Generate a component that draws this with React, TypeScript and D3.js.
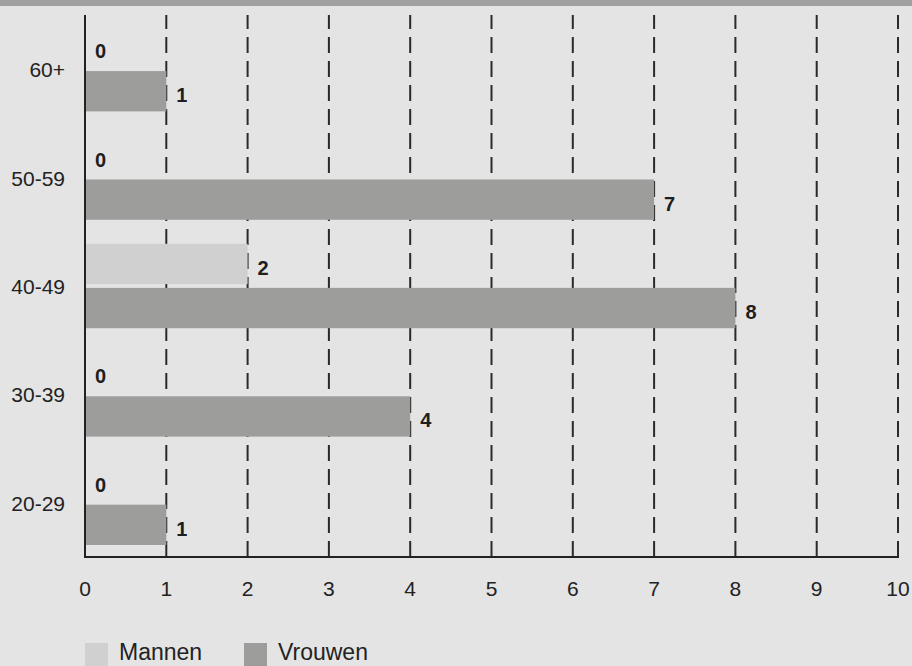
import React from "react";
import * as d3 from "d3";

const categories = ["60+", "50-59", "40-49", "30-39", "20-29"];
const seriesNames = ["Mannen", "Vrouwen"];
const mannen = [0, 0, 2, 0, 0];
const vrouwen = [1, 7, 8, 4, 1];
const xTicks = [0, 1, 2, 3, 4, 5, 6, 7, 8, 9, 10];

const W = 912;
const H = 666;
const colors: Record<string, string> = { Mannen: "#d0d0d0", Vrouwen: "#9d9d9c" };
const FONT = "'Liberation Sans', Arial, Helvetica, sans-serif";

export default function App() {
  const x = d3.scaleLinear().domain([0, 10]).range([85, 898]);
  const y = d3.scaleBand<string>().domain(categories).range([15, 557]).paddingInner(0).paddingOuter(0);
  const bw = y.bandwidth();
  const sub = d3.scaleBand<string>().domain(seriesNames).range([12, bw - 12]).paddingInner(0.085);
  const values: Record<string, number[]> = { Mannen: mannen, Vrouwen: vrouwen };
  const axisY = 557;
  const top = 15;

  return (
    <svg width={W} height={H} style={{ position: "absolute", left: 0, top: 0, display: "block" }} fontFamily={FONT}>
      <rect x={0} y={0} width={W} height={H} fill="#e4e4e4" />
      <rect x={0} y={0} width={W} height={6} fill="#a0a0a0" />
      {/* grid lines */}
      {xTicks.filter((t) => t > 0).map((t) => (
        <line key={"g" + t} x1={x(t)} x2={x(t)} y1={axisY} y2={top} stroke="#2a2a2a" strokeWidth={2} strokeDasharray="16,8" />
      ))}
      {/* bars */}
      {categories.map((c, i) => (
        <g key={c} transform={`translate(0,${y(c)})`}>
          {seriesNames.map((s) => {
            const v = values[s][i];
            const by = sub(s)!;
            const bh = sub.bandwidth();
            return (
              <g key={s}>
                {v > 0 && (
                  <rect x={x(0)} y={by} width={x(v) - x(0)} height={bh} fill={colors[s]} />
                )}
                <text x={x(v) + 10} y={by + bh / 2 + 11} fontSize={20} fontWeight="bold" fill="#1e1e1e">
                  {v}
                </text>
              </g>
            );
          })}
          <text x={65} y={bw / 2 + 8} fontSize={21} textAnchor="end" fill="#222">
            {c}
          </text>
        </g>
      ))}
      {/* axes */}
      <line x1={x(0)} x2={x(0)} y1={top} y2={axisY + 1} stroke="#222" strokeWidth={2} />
      <line x1={x(0) - 1} x2={x(10) + 1} y1={axisY} y2={axisY} stroke="#222" strokeWidth={2} />
      {xTicks.map((t) => (
        <text key={"t" + t} x={x(t)} y={596} fontSize={21} textAnchor="middle" fill="#222">
          {t}
        </text>
      ))}
      {/* legend */}
      {seriesNames.map((s, i) => {
        const lx = i === 0 ? 85 : 244;
        return (
          <g key={"l" + s}>
            <rect x={lx} y={643} width={23} height={23} fill={colors[s]} />
            <text x={lx + 34} y={660} fontSize={23} fill="#222">
              {s}
            </text>
          </g>
        );
      })}
    </svg>
  );
}
